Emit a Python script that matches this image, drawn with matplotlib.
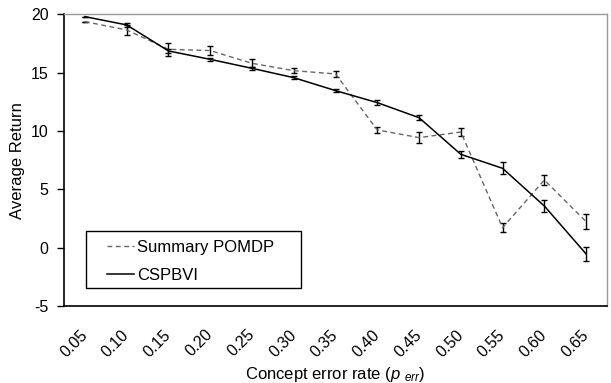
import matplotlib
matplotlib.use("Agg")
import matplotlib.pyplot as plt
from matplotlib.patches import Rectangle

plt.rcParams['font.family'] = ['Liberation Sans', 'DejaVu Sans']
plt.rcParams['mathtext.fontset'] = 'custom'
plt.rcParams['mathtext.rm'] = 'Liberation Sans'
plt.rcParams['mathtext.it'] = 'Liberation Sans:italic'

categories = ["0.05", "0.10", "0.15", "0.20", "0.25", "0.30", "0.35",
              "0.40", "0.45", "0.50", "0.55", "0.60", "0.65"]
summary_pomdp = [19.37, 18.66, 17.0, 16.89, 15.8, 15.17, 14.89,
                 10.09, 9.43, 9.91, 1.71, 5.8, 2.23]
summary_err = [0.0, 0.4, 0.55, 0.4, 0.35, 0.2, 0.25,
               0.25, 0.45, 0.33, 0.4, 0.45, 0.65]
cspbvi = [19.8, 19.09, 16.86, 16.14, 15.37, 14.57, 13.46,
          12.43, 11.14, 8.0, 6.8, 3.57, -0.54]
cspbvi_err = [0.0, 0.15, 0.2, 0.1, 0.15, 0.15, 0.1,
              0.2, 0.2, 0.3, 0.5, 0.5, 0.6]
y_ticks = [-5, 0, 5, 10, 15, 20]

fig = plt.figure(figsize=(6.11, 3.83), dpi=100)
ax = fig.add_axes([64/611, 1-306/383, 543/611, (306-14.3)/383])

x = list(range(len(categories)))
ax.errorbar(x, summary_pomdp, yerr=summary_err, color='#666666', lw=1.0,
            ls=(0, (3.5, 2.5)), ecolor='black', elinewidth=1.0, capsize=2.5,
            capthick=1.0, label='Summary POMDP', zorder=3)
ax.errorbar(x, cspbvi, yerr=cspbvi_err, color='black', lw=1.1,
            ecolor='black', elinewidth=1.0, capsize=2.5, capthick=1.0,
            label='CSPBVI', zorder=4)

ax.set_xlim(-0.5, len(categories) - 0.5)
ax.set_ylim(-5, 20)
ax.set_yticks(y_ticks)
ax.set_yticklabels([str(v) for v in y_ticks], fontsize=11.5)
ax.set_xticks(x)
ax.set_xticklabels(categories, fontsize=11.5, rotation=45, ha='right',
                   va='center', rotation_mode='anchor')
ax.tick_params(axis='x', length=0, pad=19)
ax.tick_params(axis='y', length=5, width=1, direction='out', pad=6)

for s in ['top', 'right']:
    ax.spines[s].set_color('#999999')
    ax.spines[s].set_linewidth(1.0)
for s in ['left', 'bottom']:
    ax.spines[s].set_color('black')
    ax.spines[s].set_linewidth(1.2)

ax.set_ylabel('Average Return', fontsize=12, labelpad=4)
ax.set_xlabel(r'Concept error rate ($p$ $_{err}$)', fontsize=12, labelpad=4)

# legend frame
x0, y0 = (86-64)/543, (306-288)/292
x1, y1 = (301-64)/543, (306-231)/292
ax.add_patch(Rectangle((x0, y0), x1-x0, y1-y0, transform=ax.transAxes,
                       facecolor='white', edgecolor='black', lw=1.0, zorder=5))
handles, labels = ax.get_legend_handles_labels()
handles = [h[0] for h in handles]
leg = ax.legend(handles, labels, loc='upper left',
                bbox_to_anchor=((107-64)/543, (306-240)/292),
                frameon=False, fontsize=12, handlelength=1.6,
                handletextpad=0.2, labelspacing=0.75, borderpad=0,
                borderaxespad=0)
leg.set_zorder(6)

fig.savefig('out.png', dpi=100)
